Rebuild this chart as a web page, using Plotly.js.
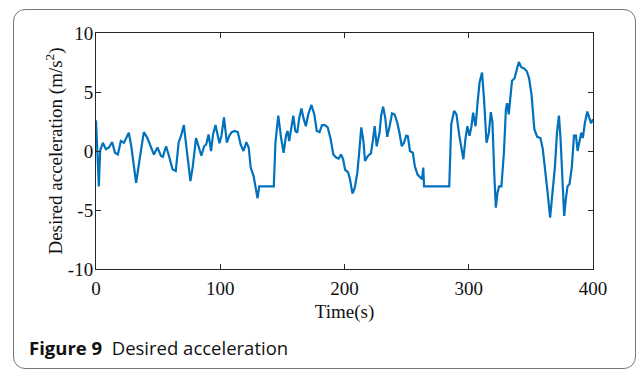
<!DOCTYPE html>
<html>
<head>
<meta charset="utf-8">
<script src="https://cdn.plot.ly/plotly-3.0.1.min.js"></script>
<style>
html, body { margin: 0; padding: 0; background: #fff; }
#frame { position: absolute; left: 13px; top: 9px; width: 623px; height: 360px; border: 1px solid #777; border-radius: 12px; box-sizing: border-box; }
#chart { position: absolute; left: 0; top: 0; width: 637px; height: 369px; }
</style>
</head>
<body>
<div id="frame"></div>
<div id="chart"></div>
<script>
const timeS = [0, 2.3, 3.3, 5.5, 8, 10.4, 13, 15.3, 17.6, 20, 22.5, 24, 26.4, 28.4, 32.3, 35.9, 38.5, 41.4, 46.6, 49.5, 52.2, 53.8, 56.4, 58.7, 61.6, 64.2, 66.5, 68.5, 70.7, 72.7, 76, 77.9, 80.5, 82.5, 84.8, 87, 88.7, 90.6, 92.6, 94.2, 96.2, 97.8, 99.4, 101, 103, 105.3, 107.3, 109.2, 111.5, 114.1, 116.4, 118.7, 121, 122.9, 124.5, 126.8, 128.8, 130, 131.4, 143.1, 144.4, 146.7, 149, 151, 152.9, 154.2, 155.5, 157.5, 158.8, 160.4, 162, 163.6, 165.3, 167.2, 168.9, 170.8, 173.4, 175.7, 177.7, 179.9, 181.9, 184.2, 186.5, 188.8, 191, 193.3, 195.3, 197.2, 198.9, 200.5, 202.8, 204.4, 206.4, 208.3, 210.3, 211.6, 213.5, 215.2, 216.5, 219, 221.3, 223, 224.3, 225.9, 228.2, 229.5, 231.1, 232.8, 234.4, 236.3, 238.3, 240.3, 242.5, 244.2, 246.1, 247.8, 249.7, 251, 252.7, 255, 256.6, 258.8, 260.8, 262.4, 263.4, 264, 284.3, 285.9, 288.2, 290.1, 292.4, 294.4, 295.7, 297.3, 298.9, 300.6, 302.2, 303.5, 305.5, 307.1, 308.7, 310.7, 312.3, 314.3, 316.2, 317.8, 319.1, 320.5, 321.8, 323.1, 324.4, 326.3, 328.3, 329.9, 330.9, 332.2, 333.5, 334.8, 336.8, 338.7, 340.3, 342.3, 344.5, 346.5, 348.5, 350.5, 352.8, 355.1, 357.7, 359.6, 361.6, 363.5, 365.5, 367.4, 369.4, 371, 372.6, 373.9, 375.5, 376.8, 378.1, 379.5, 381.1, 383, 384.7, 386.3, 387.6, 389.2, 390.5, 391.8, 393.5, 395.4, 397.1, 398.4, 400];
const accel = [2.6, -3.0, 0, 0.7, 0.15, 0.3, 0.75, -0.15, -0.3, 0.85, 0.7, 1.0, 1.55, 0.4, -2.7, -0.15, 1.6, 1.1, -0.3, 0.3, -0.4, -0.5, 0.4, -0.4, -1.55, -1.7, 0.7, 1.3, 2.2, 0.4, -2.55, -1.3, 1.1, 0.4, -0.4, 0.4, 0.55, 1.4, 0, 1.4, 2.2, 1.4, 0.65, 1.3, 2.85, 0.7, 1.3, 1.6, 1.7, 1.6, 0.55, 0, 0.75, 0.3, -1.4, -2.1, -3.25, -4.0, -3.0, -3.0, 0.7, 3.0, 1.1, -0.15, 1.3, 1.7, 0.85, 2.1, 3.0, 1.7, 1.55, 2.8, 3.6, 2.7, 2.1, 3.1, 3.9, 3.1, 1.7, 1.6, 2.2, 2.2, 2.0, 1.05, -0.3, -0.55, -0.65, -0.3, -0.7, -1.6, -1.8, -2.4, -3.6, -3.1, -1.85, -0.4, 2.0, 0.85, -0.85, -0.4, -0.2, 1.0, 2.1, 0.4, 1.55, 3.0, 3.75, 2.8, 1.2, 2.1, 3.2, 3.1, 2.4, 1.55, 0.4, 0.7, 1.3, 1.25, 0, -0.15, -1.3, -2.0, -2.25, -2.4, -1.4, -3.0, -3.0, 2.25, 3.4, 3.1, 1.3, 0.15, -0.7, 1.0, 2.1, 1.3, 2.1, 3.25, 2.1, 4.1, 5.8, 6.65, 4.4, 0.7, 1.55, 3.3, 2.4, -1.85, -4.8, -3.55, -3.0, -3.0, -0.15, 3.55, 4.05, 3.1, 4.65, 5.95, 6.15, 6.95, 7.55, 7.1, 7.0, 6.8, 6.2, 4.8, 1.85, 1.2, 1.1, 0.15, -1.55, -3.55, -5.65, -3.55, -1.3, 1.55, 3.0, 1.0, -3.0, -5.5, -4.1, -3.0, -2.8, -1.3, 1.3, 1.3, 0, 1.0, 1.55, 1.1, 2.4, 3.35, 2.85, 2.35, 2.7];
const xTicks = [0, 100, 200, 300, 400];
const yTicks = [-10, -5, 0, 5, 10];
const yTickText = ['-10', '-5', '0', '5', '10'];
const xTitle = 'Time(s)';
const yTitle = 'Desired acceleration (m/s<sup>2</sup>)';
const captionText = '<b>Figure 9</b>  Desired acceleration';

const serif = 'Liberation Serif, Times New Roman, serif';
const axisCommon = {
  showline: true, mirror: 'ticks', linecolor: '#262626', linewidth: 1,
  ticks: 'inside', ticklen: 5, tickcolor: '#262626', tickwidth: 1,
  showgrid: false, zeroline: false,
  tickfont: { family: serif, size: 19, color: '#111' }
};

const trace = {
  x: timeS, y: accel, type: 'scatter', mode: 'lines',
  line: { color: '#0072BD', width: 2.2 }, hoverinfo: 'skip'
};

const layout = {
  width: 637, height: 369,
  margin: { l: 96, r: 44, t: 33, b: 100 },
  paper_bgcolor: 'rgba(0,0,0,0)', plot_bgcolor: '#fff',
  showlegend: false,
  xaxis: Object.assign({}, axisCommon, {
    range: [0, 400], tickvals: xTicks, ticktext: xTicks.map(String),
    ticklabelstandoff: 2,
    title: { text: xTitle, font: { family: serif, size: 19, color: '#111' }, standoff: 6 }
  }),
  yaxis: Object.assign({}, axisCommon, {
    range: [-10, 10], tickvals: yTicks, ticktext: yTickText,
    ticklabelstandoff: -2,
    title: { text: yTitle, font: { family: serif, size: 19, color: '#111' }, standoff: 0 }
  }),
  annotations: [{
    xref: 'paper', yref: 'paper', x: (27 - 96) / 497, y: (269 - 347) / 236,
    xanchor: 'left', yanchor: 'middle', showarrow: false,
    text: captionText, font: { family: 'Open Sans, sans-serif', size: 18.5, color: '#111' }
  }]
};

Plotly.newPlot('chart', [trace], layout, { displayModeBar: false, staticPlot: true });
</script>
</body>
</html>
